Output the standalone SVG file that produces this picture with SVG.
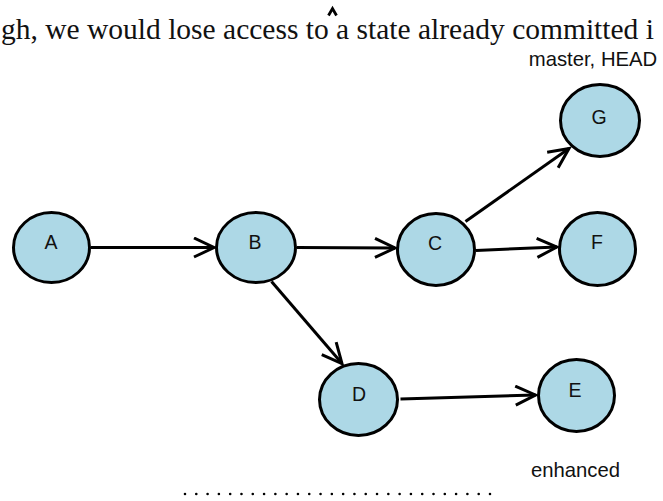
<svg xmlns="http://www.w3.org/2000/svg" width="663" height="501" viewBox="0 0 663 501">
  <style>
    .node ellipse { fill: #add8e6; stroke: #000; stroke-width: 3; }
    .node text { font-family: "Liberation Sans", Arial, sans-serif; font-size: 19.5px; fill: #111; text-anchor: middle; }
    .label { font-family: "Liberation Sans", Arial, sans-serif; font-size: 20.3px; fill: #111; text-anchor: middle; }
    .edge { stroke: #000; stroke-width: 3; fill: none; marker-end: url(#arrow); }
    .prose { font-family: "Liberation Serif", "DejaVu Serif", serif; font-size: 29.5px; fill: #111; }
  </style>
  <defs>
    <marker id="arrow" markerUnits="userSpaceOnUse" viewBox="0 0 24 22" markerWidth="24" markerHeight="22" refX="21" refY="11" orient="auto">
      <path d="M1,1.5 L21,11 L1,20.5" fill="none" stroke="#000" stroke-width="3"/>
    </marker>
  </defs>

  <rect width="663" height="501" fill="#fff"/>

  <!-- running text above the figure -->
  <text class="prose" x="1" y="39">gh, we would lose access to a state already committed i</text>
  <path d="M328.5,15.5 L332.5,8.5 L336.5,15.5" fill="none" stroke="#000" stroke-width="2.8"/>

  <!-- commit edges -->
  <g id="edges">
    <line class="edge" x1="91" y1="247.5" x2="214" y2="247.5"/>
    <line class="edge" x1="297" y1="247.5" x2="395" y2="248"/>
    <line class="edge" x1="476" y1="250.5" x2="557" y2="247"/>
    <line class="edge" x1="465.5" y1="221.5" x2="569" y2="148.5"/>
    <line class="edge" x1="271.5" y1="281.5" x2="342" y2="363.5"/>
    <line class="edge" x1="400.5" y1="399" x2="535.5" y2="395"/>
  </g>

  <!-- commits -->
  <g id="node-A" class="node">
    <ellipse cx="51.5" cy="247.5" rx="38" ry="35"/>
    <text x="51" y="249">A</text>
  </g>
  <g id="node-B" class="node">
    <ellipse cx="256" cy="247.5" rx="39.5" ry="35"/>
    <text x="255" y="249">B</text>
  </g>
  <g id="node-C" class="node">
    <ellipse cx="436" cy="249.5" rx="38.5" ry="36"/>
    <text x="435" y="250">C</text>
  </g>
  <g id="node-G" class="node">
    <ellipse cx="600" cy="120.5" rx="39.5" ry="36"/>
    <text x="599" y="124">G</text>
  </g>
  <g id="node-F" class="node">
    <ellipse cx="597.5" cy="249" rx="38" ry="36.5"/>
    <text x="597" y="249">F</text>
  </g>
  <g id="node-D" class="node">
    <ellipse cx="358.5" cy="399.5" rx="39" ry="36"/>
    <text x="359" y="401">D</text>
  </g>
  <g id="node-E" class="node">
    <ellipse cx="576.5" cy="395.5" rx="38" ry="36"/>
    <text x="575" y="397">E</text>
  </g>

  <!-- branch labels -->
  <text id="label-master" class="label" x="593" y="66">master, HEAD</text>
  <text id="label-enhanced" class="label" x="575.5" y="477">enhanced</text>

  <!-- dotted rule -->
  <line x1="185" y1="494" x2="490.5" y2="494" stroke="#000" stroke-width="2.6" stroke-linecap="round" stroke-dasharray="0 11.296"/>
</svg>
